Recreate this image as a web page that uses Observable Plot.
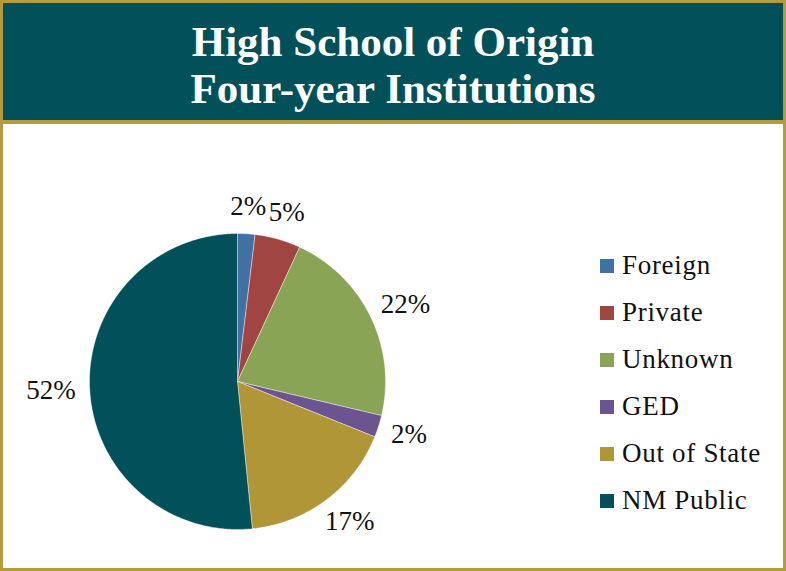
<!DOCTYPE html>
<html>
<head>
<meta charset="utf-8">
<script src="https://cdn.jsdelivr.net/npm/d3@7"></script>
<script src="https://cdn.jsdelivr.net/npm/@observablehq/plot@0.6"></script>
<style>
  html, body { margin: 0; padding: 0; background: #fff; }
  #frame { position: relative; width: 786px; height: 571px; box-sizing: border-box; border: 3px solid #B39B3E; background: #fff; overflow: hidden; }
  #title { height: 102px; padding-top: 15px; background: #02505A; border-bottom: 4px solid #B39B3E; color: #fff; text-align: center; font-family: "Liberation Serif", serif; font-weight: bold; font-size: 43px; line-height: 47px; }
  #chart { position: absolute; left: 0; top: 123px; }
  #chart text { font-family: "Liberation Serif", "Times New Roman", serif !important; }
  #legend { position: absolute; left: 597px; top: 239px; }
  #legend .lg-swatches-columns .lg-swatch { height: 47px; padding-bottom: 0; }
  #legend .lg-swatch svg { margin-right: 8px; }
  #legend .lg-swatch-label { font-family: "Liberation Serif", "Times New Roman", serif !important; font-size: 27px !important; letter-spacing: 0.7px; color: #111; }
</style>
</head>
<body>
<div id="frame">
  <div id="title"><div>High School of Origin</div><div>Four-year Institutions</div></div>
  <div id="chart"></div>
  <div id="legend"></div>
</div>
<script>
const categories = ["Foreign", "Private", "Unknown", "GED", "Out of State", "NM Public"];
const shares = [1.9, 5.0, 21.8, 2.4, 17.3, 51.6];
const colors = ["#4170A3", "#A14542", "#89A454", "#6B548F", "#B19637", "#02505A"];

const data = categories.map((name, i) => ({name, value: shares[i]}));
const arcs = d3.pie().sort(null).value(d => d.value)(data);

// slice outlines in unit-circle coordinates (angle 0 at 12 o'clock, clockwise)
const outline = [];
for (const a of arcs) {
  const n = Math.max(2, Math.ceil((a.endAngle - a.startAngle) / 0.01));
  outline.push({name: a.data.name, x: 0, y: 0});
  for (let k = 0; k <= n; k++) {
    const t = a.startAngle + (a.endAngle - a.startAngle) * k / n;
    outline.push({name: a.data.name, x: Math.sin(t), y: Math.cos(t)});
  }
  outline.push({name: a.data.name, x: 0, y: 0});
}

const R = 148, cx = 234, cy = 255;
const fontSize = 27, gap = 14;
// "outside end" labels: label box just touching the circle at the slice's mid-angle
const labels = arcs.map(a => {
  const m = (a.startAngle + a.endAngle) / 2;
  const text = Math.round(a.data.value) + "%";
  const w = (text.length - 1) * 0.5 * fontSize + 0.833 * fontSize;
  const h = 1.0 * fontSize;
  const ux = Math.sin(m), uy = Math.cos(m);
  return {
    name: a.data.name,
    x: ((R + gap) * ux + (w / 2) * ux) / R,
    y: ((R + gap) * uy + (h / 2) * uy) / R,
    text
  };
});

const chart = Plot.plot({
  width: 780,
  height: 442,
  margin: 0,
  style: {background: "transparent", overflow: "visible"},
  x: {domain: [-1, 1], range: [cx - R, cx + R], axis: null},
  y: {domain: [-1, 1], range: [cy + R, cy - R], axis: null},
  color: {type: "ordinal", domain: categories, range: colors},
  marks: [
    Plot.line(outline, {x: "x", y: "y", z: "name", fill: "name", stroke: "#ffffff", strokeWidth: 0.6, strokeOpacity: 0.7, curve: "linear"}),
    Plot.text(labels, {x: "x", y: "y", text: "text", fontSize, fontFamily: "'Liberation Serif', serif", fill: "#111", textAnchor: "middle"})
  ]
});
document.getElementById("chart").appendChild(chart);

const legend = Plot.legend({
  color: {type: "ordinal", domain: categories, range: colors},
  legend: "swatches",
  columns: 1,
  swatchSize: 14,
  className: "lg",
  style: {fontFamily: "'Liberation Serif', serif", fontSize: "27px", color: "#111", margin: 0}
});
document.getElementById("legend").appendChild(legend);
</script>
</body>
</html>
